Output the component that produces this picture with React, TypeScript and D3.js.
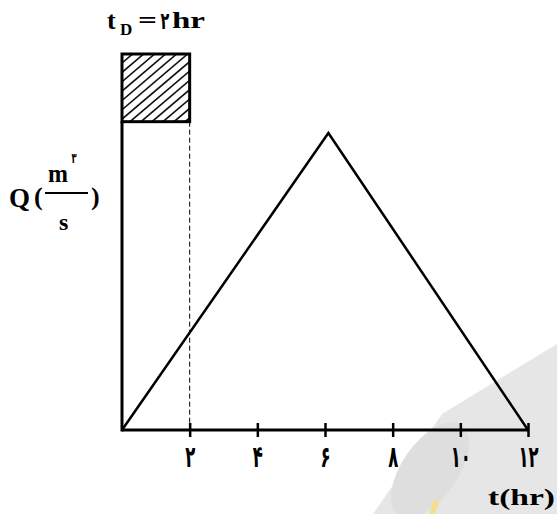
import React, { useEffect, useRef } from "react";
import * as d3 from "d3";

// hydrograph (triangle) and rainfall block
const hydroT = [0, 6.1, 12];
const hydroQ = [0, 79, 0];
const rainT = [0, 2]; // t_D = 2 hr
const rainQ = [82, 100]; // bottom / top of the rainfall block
const tickValues = [2, 4, 6, 8, 10, 12];
const tickLabels = ["۲", "۴", "۶", "۸", "۱۰", "۱۲"];

const W = 557;
const H = 514;

const App = () => {
  const ref = useRef<SVGSVGElement>(null);

  useEffect(() => {
    const svg = d3.select(ref.current);
    svg.selectAll("*").remove();

    const x = d3.scaleLinear().domain([0, 12]).range([122, 528]);
    const y = d3.scaleLinear().domain([0, 100]).range([430, 54]);

    const font = "'Liberation Serif', 'Times New Roman', serif";
    const faFont = "'DejaVu Sans', sans-serif";

    // watermark-ish background shape
    svg
      .append("path")
      .attr("d", "M373,514 L442,414 L557,344 L557,514 Z")
      .attr("fill", "#e6e6e6");
    svg
      .append("ellipse")
      .attr("cx", 430)
      .attr("cy", 470)
      .attr("rx", 28)
      .attr("ry", 55)
      .attr("transform", "rotate(35,430,470)")
      .attr("fill", "#dedede");
    svg
      .append("line")
      .attr("x1", 437).attr("y1", 500)
      .attr("x2", 432).attr("y2", 514)
      .attr("stroke", "#f7dc8a")
      .attr("stroke-width", 5);

    // rainfall block with hatching
    const bx0 = x(rainT[0]);
    const bx1 = x(rainT[1]);
    const by0 = y(rainQ[1]);
    const by1 = y(rainQ[0]);
    svg
      .append("clipPath")
      .attr("id", "boxclip")
      .append("rect")
      .attr("x", bx0)
      .attr("y", by0)
      .attr("width", bx1 - bx0)
      .attr("height", by1 - by0);
    const hatch = svg.append("g").attr("clip-path", "url(#boxclip)");
    const offsets = d3.range(-80, 90, 11);
    hatch
      .selectAll("line")
      .data(offsets)
      .join("line")
      .attr("x1", (d) => bx0 + d)
      .attr("y1", by1)
      .attr("x2", (d) => bx0 + d + 80)
      .attr("y2", by1 - 68)
      .attr("stroke", "#111")
      .attr("stroke-width", 1.6);
    svg
      .append("rect")
      .attr("x", bx0)
      .attr("y", by0)
      .attr("width", bx1 - bx0)
      .attr("height", by1 - by0)
      .attr("fill", "none")
      .attr("stroke", "#000")
      .attr("stroke-width", 3);

    // dashed line at t_D
    svg
      .append("line")
      .attr("x1", bx1)
      .attr("x2", bx1)
      .attr("y1", by1)
      .attr("y2", y(0))
      .attr("stroke", "#000")
      .attr("stroke-width", 1)
      .attr("stroke-dasharray", "5,3");

    // y axis line (from block down to origin)
    svg
      .append("line")
      .attr("x1", x(0))
      .attr("x2", x(0))
      .attr("y1", by1)
      .attr("y2", y(0) + 1.5)
      .attr("stroke", "#000")
      .attr("stroke-width", 3);

    // x axis
    const xAxis = svg.append("g").attr("transform", `translate(0,${y(0)})`);
    xAxis
      .call(
        d3
          .axisBottom(x)
          .tickValues(tickValues)
          .tickSize(0)
          .tickFormat((d, i) => tickLabels[i])
      )
      .call((g) => g.select(".domain").attr("stroke-width", 3).attr("d", `M${x(0)},0H${x(12)}`));
    xAxis
      .selectAll(".tick line")
      .attr("y1", -7)
      .attr("y2", 7)
      .attr("stroke-width", 2.5);
    xAxis
      .selectAll(".tick text")
      .attr("y", 37)
      .attr("dy", 0)
      .attr("transform", "scale(0.55,1)")
      .attr("font-size", 30)
      .attr("font-weight", "bold")
      .attr("font-family", faFont)
      .attr("fill", "#000");

    // hydrograph triangle
    const line = d3
      .line<number>()
      .x((d) => x(d))
      .y((d, i) => y(hydroQ[i]));
    svg
      .append("path")
      .attr("d", line(hydroT))
      .attr("fill", "none")
      .attr("stroke", "#000")
      .attr("stroke-width", 2.5);

    // x label
    svg
      .append("text")
      .attr("x", 488)
      .attr("y", 505)
      .attr("font-family", font)
      .attr("font-weight", "bold")
      .attr("font-size", 24)
      .attr("textLength", 67)
      .attr("lengthAdjust", "spacingAndGlyphs")
      .text("t(hr)");

    // title t_D = 2hr
    const title = svg
      .append("g")
      .attr("font-family", font)
      .attr("font-weight", "bold");
    title.append("text").attr("x", 107).attr("y", 29).attr("font-size", 26).text("t");
    title.append("text").attr("x", 120).attr("y", 35).attr("font-size", 17).text("D");
    title.append("text").attr("x", 138).attr("y", 28).attr("font-size", 24)
      .attr("textLength", 19).attr("lengthAdjust", "spacingAndGlyphs").text("=");
    title.append("text")
      .attr("x", 165)
      .attr("y", 29)
      .attr("text-anchor", "middle")
      .attr("font-family", faFont)
      .attr("font-size", 24)
      .attr("transform", "translate(165,0) scale(0.6,1) translate(-165,0)")
      .text("۲");
    title.append("text").attr("x", 172).attr("y", 28).attr("font-size", 24)
      .attr("textLength", 33).attr("lengthAdjust", "spacingAndGlyphs").text("hr");

    // y label Q(m^3/s)
    const yl = svg
      .append("g")
      .attr("font-family", font)
      .attr("font-weight", "bold");
    yl.append("text").attr("x", 9).attr("y", 207).attr("font-size", 27).text("Q");
    yl.append("text").attr("x", 34).attr("y", 205).attr("font-size", 26).text("(");
    yl.append("text").attr("x", 48).attr("y", 182).attr("font-size", 26)
      .attr("textLength", 20).attr("lengthAdjust", "spacingAndGlyphs").text("m");
    yl.append("text")
      .attr("x", 74)
      .attr("y", 163)
      .attr("text-anchor", "middle")
      .attr("font-size", 14)
      .attr("font-family", faFont)
      .attr("transform", "translate(74,0) scale(0.6,1) translate(-74,0)")
      .text("۳");
    yl.append("line")
      .attr("x1", 45)
      .attr("x2", 88)
      .attr("y1", 193)
      .attr("y2", 193)
      .attr("stroke", "#000")
      .attr("stroke-width", 2);
    yl.append("text").attr("x", 59).attr("y", 230).attr("font-size", 24).text("s");
    yl.append("text").attr("x", 91).attr("y", 205).attr("font-size", 26).text(")");
  }, []);

  return (
    <svg
      ref={ref}
      width={W}
      height={H}
      style={{ position: "absolute", left: 0, top: 0, background: "#fff" }}
    ></svg>
  );
};

export default App;
